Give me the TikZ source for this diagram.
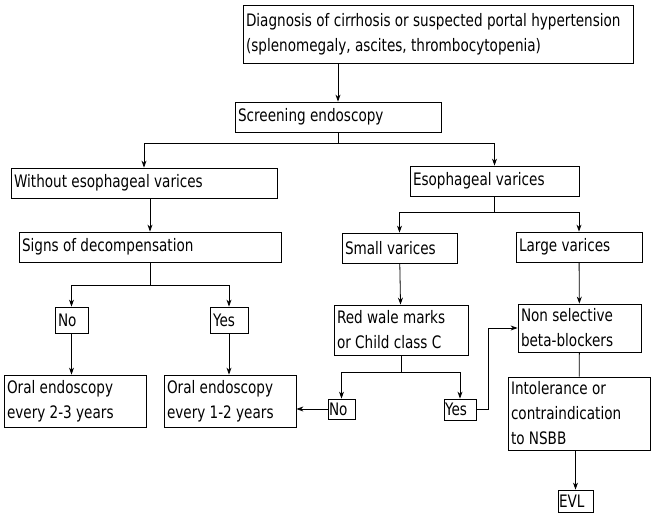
\documentclass[tikz,border=0pt]{standalone}
\usepackage{fontspec}
\setmainfont{DejaVu Sans}[FakeStretch=0.79]
\usetikzlibrary{arrows.meta}
\tikzset{
  box/.style={draw, thick, inner sep=3pt, align=flush left, font=\fontsize{17.2}{25}\selectfont},
  arr/.style={thick, -{Stealth[length=7pt,width=5pt]}},
  lin/.style={thick}
}
\begin{document}
\begin{tikzpicture}[x=1pt,y=-1pt]
  \useasboundingbox (0,0) rectangle (657,524);
  % Top of the chart
  \node[box, text width=384pt, minimum height=58pt] (diag) at (438,34) {Diagnosis of cirrhosis or suspected portal hypertension\\(splenomegaly, ascites, thrombocytopenia)};
  \node[box, text width=200pt, minimum height=30pt] (screen) at (338,117) {Screening endoscopy};

  % Left branch
  \node[box, text width=260pt, minimum height=30pt] (novar) at (144,183) {Without esophageal varices};
  \node[box, text width=256pt, minimum height=30pt] (decomp) at (150,247) {Signs of decompensation};
  \node[box, text width=27pt, minimum height=26pt] (noL) at (71.5,320) {No};
  \node[box, text width=32pt, minimum height=26pt] (yesL) at (229,320) {Yes};
  \node[box, text width=136pt, minimum height=52pt] (oral1) at (75,401) {Oral endoscopy\\every 2-3 years};
  \node[box, text width=126pt, minimum height=52pt] (oral2) at (230,401) {Oral endoscopy\\every 1-2 years};

  % Right branch
  \node[box, text width=163pt, minimum height=30pt] (evar) at (494.5,181) {Esophageal varices};
  \node[box, text width=109pt, minimum height=30pt] (small) at (399.5,248) {Small varices};
  \node[box, text width=120pt, minimum height=30pt] (large) at (579,247) {Large varices};
  \node[box, text width=128pt, minimum height=50pt] (redwale) at (401,330) {Red wale marks\\or Child class C};
  \node[box, text width=117pt, minimum height=48pt] (nsbb) at (579.5,328) {Non selective\\beta-blockers};
  \node[box, text width=25pt, minimum height=20pt, inner sep=1pt] (noM) at (341.5,409) {No};
  \node[box, text width=30pt, minimum height=21pt, inner sep=1pt] (yesM) at (460,409.5) {Yes};
  \node[box, text width=136pt, minimum height=73pt] (intol) at (579,413.5) {Intolerance or\\contraindication\\to NSBB};
  \node[box, text width=33pt, minimum height=22pt, inner sep=1pt] (evl) at (575.5,501) {EVL};

  % Connectors
  \draw[arr] (screen.north |- diag.south) -- (screen.north);
  \draw[lin] (screen.south) -- ++(0,11) coordinate (split1);
  \draw[arr] (split1) -| (novar.north);
  \draw[arr] (split1) -| (evar.north);
  \draw[arr] (novar.south -| decomp.north) -- (decomp.north);
  \draw[lin] (decomp.south) -- ++(0,23) coordinate (split2);
  \draw[arr] (split2) -| (noL.north);
  \draw[arr] (split2) -| (yesL.north);
  \draw[arr] (noL) -- (oral1.north -| noL.south);
  \draw[arr] (yesL) -- (oral2.north -| yesL.south);
  \draw[lin] (evar.south) -- ++(0,16) coordinate (split3);
  \draw[arr] (split3) -| (small.north);
  \draw[arr] (split3) -| (large.north);
  \draw[arr] (small) -- (redwale);
  \draw[arr] (large) -- (nsbb);
  \draw[lin] (redwale.south) -- ++(0,17) coordinate (split4);
  \draw[arr] (split4) -| (noM.north);
  \draw[arr] (split4) -| (yesM.north);
  \draw[arr] (noM.west) -- (oral2.east |- noM.west);
  \draw[arr] (yesM.east) -- ++(12,0) |- (nsbb.west);
  \draw[lin] (nsbb) -- (intol);
  \draw[arr] (intol.south -| evl.north) -- (evl.north);
\end{tikzpicture}
\end{document}
